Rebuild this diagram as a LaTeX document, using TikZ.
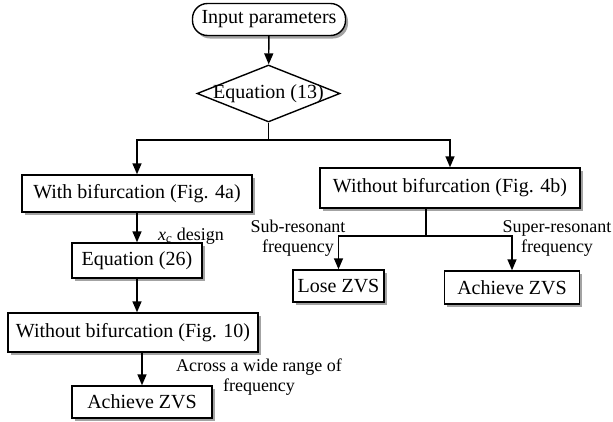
\documentclass[tikz,border=0pt]{standalone}
\usepackage{fontspec}
\setmainfont{Liberation Serif}
\usepackage{tikz}
\usetikzlibrary{shapes.geometric,shadows,arrows.meta}

\begin{document}
\begin{tikzpicture}[x=1pt,y=-1pt,line width=1.4pt,
  box/.style={rectangle,draw,fill=white,inner sep=0pt,
    font=\fontsize{20}{23}\selectfont,
    drop shadow={shadow xshift=2.5pt,shadow yshift=-3pt,opacity=0.6,fill=black!60}},
  pill/.style={box,rounded corners=15pt},
  dia/.style={diamond,draw,fill=white,inner sep=0pt,
    font=\fontsize{20}{23}\selectfont},
  lbl/.style={align=center,inner sep=0pt,font=\fontsize{18}{20}\selectfont},
  arr/.style={-{Triangle[length=11pt,width=9pt]}}]
\useasboundingbox (0,0) rectangle (613,421);
%
\node[pill,minimum width=153pt,minimum height=32pt] (inp) at (269,19.5) {Input parameters};
\node[dia,minimum width=143pt,minimum height=57pt] (eq13) at (268.5,93.5) {\makebox[0pt]{Equation (13)}};
\node[box,minimum width=230pt,minimum height=37pt] (lbif) at (137,193.5) {With bifurcation (Fig. 4a)};
\node[box,minimum width=260pt,minimum height=40pt] (rbif) at (450,188) {Without bifurcation (Fig. 4b)};
\node[box,minimum width=130pt,minimum height=35pt] (eq26) at (137,260.5) {Equation (26)};
\node[box,minimum width=250pt,minimum height=39pt] (wo10) at (133,332.5) {Without bifurcation (Fig. 10)};
\node[box,minimum width=140pt,minimum height=32pt] (azl) at (142,402) {Achieve ZVS};
\node[box,minimum width=91pt,minimum height=32pt] (lose) at (338.5,286) {Lose ZVS};
\node[box,minimum width=135pt,minimum height=33pt] (azr) at (512,287.5) {Achieve ZVS};
%
\node[lbl] (xc) at (191,236) {\textit{x\textsubscript{c}} design};
\node[lbl] (sub) at (298,238) {Sub-resonant\\frequency};
\node[lbl] (sup) at (557,238) {Super-resonant\\frequency};
\node[lbl] (wide) at (259,377) {Across a wide range of\\frequency};
%
\coordinate (j) at (268.5,140);
\coordinate (s) at (426,236);
%
\draw[arr] (inp) -- (eq13);
\draw[arr] (eq13.south) -- (j) -| (lbif.north);
\draw[arr] (j) -| (rbif.north);
\draw[arr] (lbif) -- (eq26);
\draw[arr] (eq26) -- (eq26 |- wo10.north);
\draw[arr] (azl |- wo10.south) -- (azl);
\draw (rbif.south -| s) -- (s);
\draw[arr] (s) -| (lose);
\draw[arr] (s) -| (azr);
%
\end{tikzpicture}
\end{document}
